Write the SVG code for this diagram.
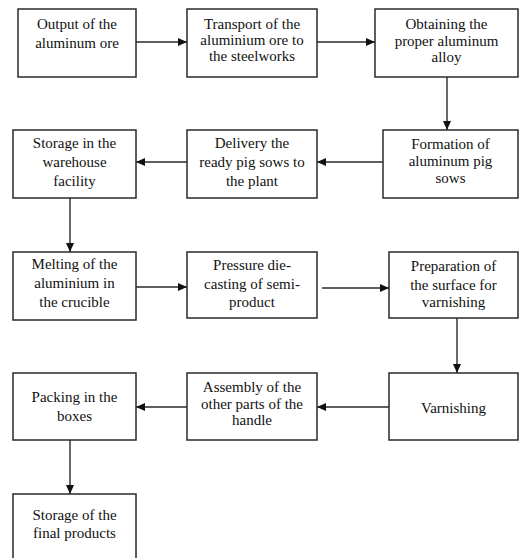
<svg xmlns="http://www.w3.org/2000/svg" width="519" height="558" viewBox="0 0 519 558">
<style>
.box{fill:#fff;stroke:#2a2a2a;stroke-width:1.5}
.t{font-family:'Liberation Serif','Tinos','Times New Roman','DejaVu Serif',serif;font-size:15px;fill:#111;text-anchor:middle}
.c{stroke:#2a2a2a;stroke-width:1.4;fill:none;marker-end:url(#ah)}
</style>
<defs>
<marker id="ah" markerWidth="10" markerHeight="10" refX="9" refY="5" orient="auto" markerUnits="userSpaceOnUse">
<path d="M0,1 L9,5 L0,9 Z" fill="#111"/>
</marker>
</defs>
<rect width="519" height="558" fill="#fff"/>
<g id="connectors">
<line class="c" x1="136" y1="42" x2="187" y2="42"/>
<line class="c" x1="317" y1="42" x2="375" y2="42"/>
<line class="c" x1="447" y1="77" x2="447" y2="130"/>
<line class="c" x1="383" y1="162" x2="317" y2="162"/>
<line class="c" x1="187" y1="162" x2="136" y2="162"/>
<line class="c" x1="70" y1="198" x2="70" y2="252"/>
<line class="c" x1="136" y1="287" x2="187" y2="287"/>
<line class="c" x1="322" y1="288" x2="389" y2="288"/>
<line class="c" x1="457" y1="318" x2="457" y2="373"/>
<line class="c" x1="389" y1="407" x2="317" y2="407"/>
<line class="c" x1="187" y1="407" x2="136" y2="407"/>
<line class="c" x1="70" y1="440" x2="70" y2="494"/>
</g>
<g id="n1"><rect class="box" x="18" y="9" width="118" height="68"/>
<text class="t" x="77" y="29">Output of the</text><text class="t" x="77" y="47.5">aluminum ore</text></g>
<g id="n2"><rect class="box" x="187" y="9" width="130" height="68"/>
<text class="t" x="252" y="29">Transport of the</text><text class="t" x="252" y="45">aluminium ore to</text><text class="t" x="252" y="61">the steelworks</text></g>
<g id="n3"><rect class="box" x="375" y="9" width="143" height="68"/>
<text class="t" x="446.5" y="29">Obtaining the</text><text class="t" x="446.5" y="45.5">proper aluminum</text><text class="t" x="446.5" y="62">alloy</text></g>
<g id="n4"><rect class="box" x="383" y="130" width="135" height="68"/>
<text class="t" x="450.5" y="149">Formation of</text><text class="t" x="450.5" y="166">aluminum pig</text><text class="t" x="450.5" y="183">sows</text></g>
<g id="n5"><rect class="box" x="187" y="130" width="130" height="68"/>
<text class="t" x="252" y="148">Delivery the</text><text class="t" x="252" y="167">ready pig sows to</text><text class="t" x="252" y="186">the plant</text></g>
<g id="n6"><rect class="box" x="13" y="130" width="123" height="68"/>
<text class="t" x="74.5" y="148">Storage in the</text><text class="t" x="74.5" y="167">warehouse</text><text class="t" x="74.5" y="186">facility</text></g>
<g id="n7"><rect class="box" x="13" y="252" width="123" height="68"/>
<text class="t" x="74.5" y="269">Melting of the</text><text class="t" x="74.5" y="288">aluminium in</text><text class="t" x="74.5" y="307">the crucible</text></g>
<g id="n8"><rect class="box" x="187" y="252" width="130" height="66"/>
<text class="t" x="252" y="270">Pressure die-</text><text class="t" x="252" y="289">casting of semi-</text><text class="t" x="252" y="307">product</text></g>
<g id="n9"><rect class="box" x="389" y="252" width="129" height="66"/>
<text class="t" x="453.5" y="271">Preparation of</text><text class="t" x="453.5" y="290">the surface for</text><text class="t" x="453.5" y="307">varnishing</text></g>
<g id="n10"><rect class="box" x="389" y="373" width="129" height="67"/>
<text class="t" x="453.5" y="413">Varnishing</text></g>
<g id="n11"><rect class="box" x="187" y="373" width="130" height="67"/>
<text class="t" x="252" y="392">Assembly of the</text><text class="t" x="252" y="408.5">other parts of the</text><text class="t" x="252" y="425">handle</text></g>
<g id="n12"><rect class="box" x="13" y="373" width="123" height="67"/>
<text class="t" x="74.5" y="402">Packing in the</text><text class="t" x="74.5" y="421">boxes</text></g>
<g id="n13"><rect class="box" x="13" y="494" width="123" height="70"/>
<text class="t" x="74.5" y="520">Storage of the</text><text class="t" x="74.5" y="538">final products</text></g>
</svg>
